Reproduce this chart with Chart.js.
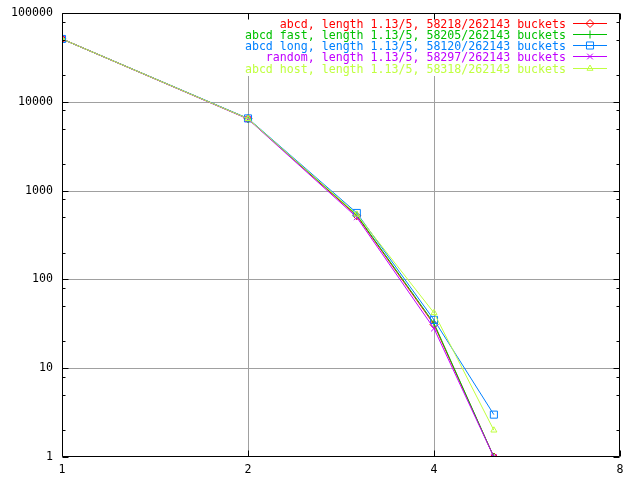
<!DOCTYPE html>
<html>
<head>
<meta charset="utf-8">
<script src="https://cdn.jsdelivr.net/npm/chart.js@4/dist/chart.umd.min.js"></script>
<style>
html,body{margin:0;padding:0;background:#fff;}
#wrap{width:640px;height:480px;}
</style>
</head>
<body>
<div id="wrap"><canvas id="c" width="640" height="480"></canvas></div>
<script>
const xValues = [1, 2, 3, 4, 5];
const seriesNames = [
  "abcd, length 1.13/5, 58218/262143 buckets",
  "abcd fast, length 1.13/5, 58205/262143 buckets",
  "abcd long, length 1.13/5, 58120/262143 buckets",
  "random, length 1.13/5, 58297/262143 buckets",
  "abcd host, length 1.13/5, 58318/262143 buckets"
];
const abcd       = [51000, 6450, 520, 31, 1];
const abcdFast   = [51000, 6450, 530, 32, 1];
const abcdLong   = [51000, 6500, 560, 35, 3];
const randomVals = [51000, 6400, 500, 28, 1];
const abcdHost   = [51000, 6450, 540, 42, 2];
const xTicks = [1, 2, 4, 8];
const yTicks = [1, 10, 100, 1000, 10000, 100000];
const yMinorTicks = [2,5,8,20,50,80,200,500,800,2000,5000,8000,20000,50000,80000];

const colors = ['#ff0000', '#00c000', '#0080ff', '#c000ff', '#c0ff40'];
const styles = ['rectRot', 'cross', 'rect', 'crossRot', 'triangle'];
const radii  = [4, 4, 5, 4, 3.5];
const allSeries = [abcd, abcdFast, abcdLong, randomVals, abcdHost];
const FONT = '11.6px "DejaVu Sans Mono", monospace';

const datasets = allSeries.map((vals, i) => ({
  label: seriesNames[i],
  data: xValues.map((x, j) => ({x: x, y: vals[j]})),
  borderColor: colors[i],
  backgroundColor: 'rgba(0,0,0,0)',
  borderWidth: 1,
  pointStyle: styles[i],
  pointRadius: radii[i],
  pointBorderWidth: 1,
  pointBorderColor: colors[i],
  pointBackgroundColor: 'rgba(0,0,0,0)',
  tension: 0,
  order: 5 - i
}));

const frame = {
  id: 'frame',
  beforeDatasetsDraw(chart) {
    const ctx = chart.ctx, a = chart.chartArea;
    const xs = chart.scales.x, ys = chart.scales.y;
    ctx.save();
    ctx.lineWidth = 1;
    ctx.strokeStyle = '#a0a0a0';
    ctx.beginPath();
    xTicks.forEach(v => {
      if (v === 1 || v === 8) return;
      const px = Math.round(xs.getPixelForValue(v)) + 0.5;
      ctx.moveTo(px, a.top); ctx.lineTo(px, a.bottom);
    });
    yTicks.forEach(v => {
      if (v === 1 || v === 100000) return;
      const py = Math.round(ys.getPixelForValue(v)) + 0.5;
      ctx.moveTo(a.left, py); ctx.lineTo(a.right, py);
    });
    ctx.stroke();
    // key area left blank
    ctx.fillStyle = '#fff';
    ctx.fillRect(238, a.top + 1, a.right - 239, 75 - a.top);
    ctx.restore();
  },
  afterDatasetsDraw(chart) {
    const ctx = chart.ctx, a = chart.chartArea;
    const xs = chart.scales.x, ys = chart.scales.y;
    ctx.save();
    ctx.lineWidth = 1;
    ctx.strokeStyle = '#000';
    ctx.beginPath();
    const L = Math.round(a.left) + 0.5, R = Math.round(a.right) - 0.5;
    const T = Math.round(a.top) + 0.5, B = Math.round(a.bottom) - 0.5;
    ctx.rect(L, T, R - L, B - T);
    xTicks.forEach(v => {
      const px = Math.round(xs.getPixelForValue(v)) + 0.5;
      ctx.moveTo(px, B); ctx.lineTo(px, B - 6);
      ctx.moveTo(px, T); ctx.lineTo(px, T + 6);
    });
    yTicks.forEach(v => {
      const py = Math.round(ys.getPixelForValue(v)) + 0.5;
      ctx.moveTo(L, py); ctx.lineTo(L + 6, py);
      ctx.moveTo(R, py); ctx.lineTo(R - 6, py);
    });
    yMinorTicks.forEach(v => {
      const py = Math.round(ys.getPixelForValue(v)) + 0.5;
      ctx.moveTo(L, py); ctx.lineTo(L + 3, py);
      ctx.moveTo(R, py); ctx.lineTo(R - 3, py);
    });
    ctx.stroke();

    // legend
    ctx.font = FONT;
    ctx.textAlign = 'right';
    ctx.textBaseline = 'middle';
    chart.data.datasets.forEach((ds, i) => {
      const y = Math.round(22.5 + i * 11.25) + 0.5;
      ctx.fillStyle = colors[i];
      ctx.fillText(ds.label, 566, y + 1);
      ctx.strokeStyle = colors[i];
      ctx.beginPath();
      ctx.moveTo(573, y);
      ctx.lineTo(607, y);
      ctx.stroke();
      ctx.fillStyle = 'rgba(0,0,0,0)';
      Chart.helpers.drawPoint(ctx, {
        pointStyle: styles[i], radius: radii[i], borderWidth: 1
      }, 590, y);
    });
    ctx.restore();
  }
};

new Chart(document.getElementById('c'), {
  type: 'line',
  data: { datasets: datasets },
  options: {
    responsive: false,
    animation: false,
    devicePixelRatio: 1,
    layout: { padding: { top: 13, right: 20, left: 0, bottom: 0 } },
    plugins: { legend: { display: false }, tooltip: { enabled: false } },
    scales: {
      x: {
        type: 'logarithmic', min: 1, max: 8,
        afterBuildTicks: s => { s.ticks = xTicks.map(v => ({value: v})); },
        afterFit: s => { s.height = 23; s.paddingLeft = 0; s.paddingRight = 0; },
        grid: { display: false, drawTicks: false },
        border: { display: false },
        ticks: {
          color: '#000', font: { family: '"DejaVu Sans Mono", monospace', size: 11.6 },
          padding: 6, maxRotation: 0, autoSkip: false,
          callback: v => String(v)
        }
      },
      y: {
        type: 'logarithmic', min: 1, max: 100000,
        afterBuildTicks: s => { s.ticks = yTicks.map(v => ({value: v})); },
        afterFit: s => { s.width = 62; s.paddingTop = 0; s.paddingBottom = 0; },
        grid: { display: false, drawTicks: false },
        border: { display: false },
        ticks: {
          color: '#000', font: { family: '"DejaVu Sans Mono", monospace', size: 11.6 },
          padding: 9, autoSkip: false,
          callback: v => String(v)
        }
      }
    }
  },
  plugins: [frame]
});
</script>
</body>
</html>
